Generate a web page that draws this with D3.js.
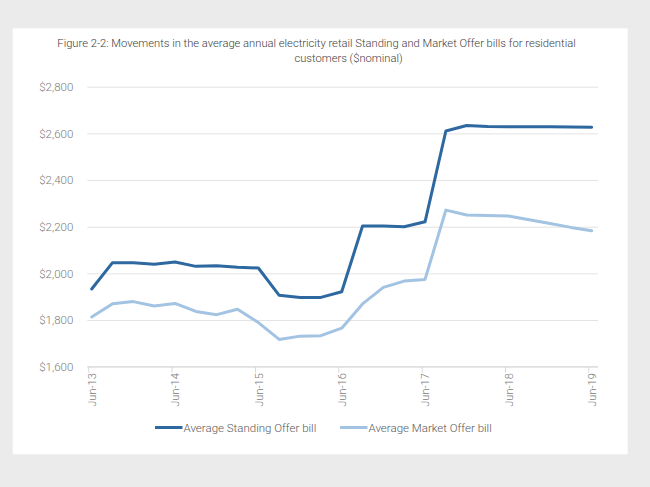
<!DOCTYPE html>
<html>
<head>
<meta charset="utf-8">
<script src="https://cdn.jsdelivr.net/npm/d3@7"></script>
<style>
  html, body { margin: 0; padding: 0; background: #ebebeb; }
  svg { display: block; font-family: Roboto, "Noto Sans", sans-serif; font-weight: 300; }
</style>
</head>
<body>
<svg id="chart" width="650" height="487"></svg>
<script>
const quarters = ["Jun-13","Sep-13","Dec-13","Mar-14","Jun-14","Sep-14","Dec-14","Mar-15","Jun-15","Sep-15","Dec-15","Mar-16","Jun-16","Sep-16","Dec-16","Mar-17","Jun-17","Sep-17","Dec-17","Mar-18","Jun-18","Sep-18","Dec-18","Mar-19","Jun-19"];
const xTickLabels = ["Jun-13","Jun-14","Jun-15","Jun-16","Jun-17","Jun-18","Jun-19"];
const yTicks = [1600, 1800, 2000, 2200, 2400, 2600, 2800];
const standingOffer = [1933, 2046, 2046, 2039, 2049, 2030, 2033, 2026, 2023, 1906, 1897, 1897, 1921, 2203, 2203, 2200, 2221, 2610, 2634, 2629, 2628, 2628, 2628, 2627, 2626];
const marketOffer = [1813, 1870, 1879, 1860, 1871, 1837, 1823, 1846, 1789, 1717, 1731, 1733, 1765, 1869, 1940, 1967, 1974, 2271, 2250, 2248, 2246, 2230, 2214, 2197, 2183];
const seriesNames = ["Average Standing Offer bill", "Average Market Offer bill"];
const titleLines = ["Figure 2-2: Movements in the average annual electricity retail Standing and Market Offer bills for residential", "customers ($nominal)"];

const colors = ["#2d68a0", "#a2c3e2"];
const svg = d3.select("#chart");

// white panel
svg.append("rect").attr("x", 12.7).attr("y", 28.3).attr("width", 615).attr("height", 426).attr("fill", "#ffffff");

// title
svg.append("text").attr("x", 316.5).attr("y", 46.5).attr("text-anchor", "middle")
  .attr("font-size", 11.2).attr("fill", "#404040").text(titleLines[0]);
svg.append("text").attr("x", 348.5).attr("y", 62).attr("text-anchor", "middle")
  .attr("font-size", 11.2).attr("fill", "#404040").text(titleLines[1]);

const plotLeft = 87.3, plotRight = 598;
const x = d3.scalePoint().domain(quarters).range([91.7, 591.7]);
const y = d3.scaleLinear().domain([1600, 2800]).range([366.7, 86.7]);

// y axis + gridlines
const yAxis = svg.append("g").attr("transform", `translate(${plotLeft},0)`)
  .call(d3.axisLeft(y).tickValues(yTicks).tickSize(-(plotRight - plotLeft)).tickPadding(14)
    .tickFormat(d => "$" + d3.format(",")(d)));
yAxis.select(".domain").remove();
yAxis.selectAll(".tick line").attr("stroke", "#e3e3e3").attr("stroke-width", 1);
yAxis.selectAll(".tick text").attr("fill", "#7a7a7a").attr("font-size", 11.5)
  .attr("font-family", "Roboto, sans-serif").attr("font-weight", 300);

// x axis
const xAxis = svg.append("g").attr("transform", `translate(0,${y(1600)})`)
  .call(d3.axisBottom(x).tickValues(xTickLabels).tickSize(0).tickPadding(0));
xAxis.select(".domain").attr("d", `M${plotLeft},0H${plotRight}`).attr("stroke", "#d9d9d9");
xAxis.selectAll(".tick").append("line").attr("x1", -3.4).attr("x2", -3.4).attr("y1", 0).attr("y2", 6).attr("stroke", "#d9d9d9");
xAxis.selectAll(".tick text")
  .attr("transform", "rotate(-90)")
  .attr("text-anchor", "end").attr("x", -6.5).attr("y", 0).attr("dy", "0.35em")
  .attr("fill", "#7a7a7a").attr("font-size", 11).attr("font-family", "Roboto, sans-serif").attr("font-weight", 300);

// lines
const line = d3.line().x((d, i) => x(quarters[i])).y(d => y(d));
[standingOffer, marketOffer].forEach((s, k) => {
  svg.append("path").datum(s).attr("d", line).attr("fill", "none")
    .attr("stroke", colors[k]).attr("stroke-width", 3).attr("stroke-linejoin", "round").attr("stroke-linecap", "round");
});

// legend
const legendItems = [{x: 155, name: seriesNames[0], c: colors[0]}, {x: 340, name: seriesNames[1], c: colors[1]}];
legendItems.forEach(it => {
  const g = svg.append("g").attr("transform", `translate(${it.x},427.5)`);
  g.append("line").attr("x1", 0).attr("x2", 27.5).attr("stroke", it.c).attr("stroke-width", 3);
  g.append("text").attr("x", 28.5).attr("y", 0).attr("dy", "0.35em").attr("font-size", 11.5)
    .attr("fill", "#595959").text(it.name);
});
</script>
</body>
</html>
